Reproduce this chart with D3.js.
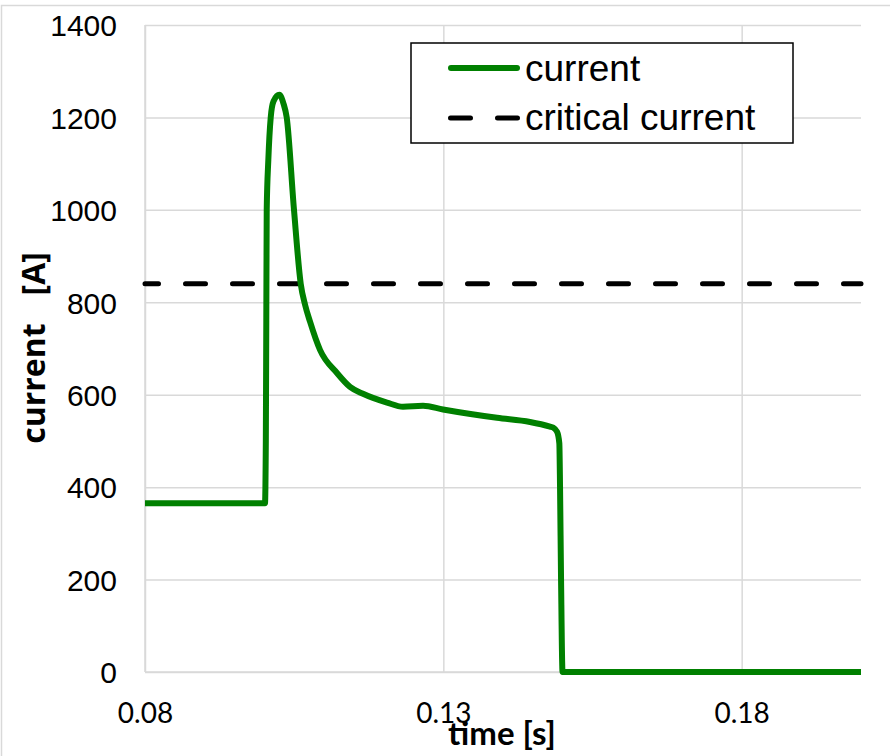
<!DOCTYPE html>
<html>
<head>
<meta charset="utf-8">
<script src="https://cdn.jsdelivr.net/npm/d3@7"></script>
<style>
  html, body { margin: 0; padding: 0; background: #fff; }
  svg { display: block; }
</style>
</head>
<body>
<svg id="chart" width="890" height="756"></svg>
<script>
// ---- data ----
const times = [0.0800, 0.10011, 0.10025, 0.10033, 0.1004, 0.10067, 0.10107, 0.10154, 0.10251, 0.10321,
  0.10375, 0.10497, 0.10610, 0.10682, 0.10766, 0.10933, 0.11218, 0.11436,
  0.11654, 0.12056, 0.12324, 0.1266, 0.12995, 0.139, 0.14453, 0.14788, 0.14839, 0.14906,
  0.14944, 0.14956, 0.14973, 0.14998, 0.2000];
const currents = [365, 365, 500, 760, 1000, 1108, 1200, 1235, 1249, 1230,
  1200, 1000, 840, 795, 758, 697, 647, 617,
  602, 583, 574, 576, 568, 550, 541, 531, 529, 520,
  495, 400, 200, 0, 0];
const criticalTimes = [0.08, 0.2];
const criticalValues = [840, 840];
const xTicks = [0.08, 0.13, 0.18];
const yTicks = [0, 200, 400, 600, 800, 1000, 1200, 1400];
const seriesNames = ["current", "critical current"];

// ---- layout ----
const svg = d3.select("#chart");
const pLeft = 145, pRight = 861, pTop = 25, pBottom = 672;
const x = d3.scaleLinear().domain([0.08, 0.2]).range([pLeft, pRight]);
const y = d3.scaleLinear().domain([0, 1400]).range([pBottom, pTop]);
const gridColor = "#d9d9d9";

// outer border
svg.append("rect").attr("x", 1.5).attr("y", 5.5).attr("width", 950).attr("height", 900)
  .attr("fill", "none").attr("stroke", gridColor).attr("stroke-width", 1.5);

// y axis with gridlines
const yAxis = svg.append("g").attr("transform", `translate(${pLeft},0)`)
  .call(d3.axisLeft(y).tickValues(yTicks).tickSize(-(pRight - pLeft)).tickPadding(28).tickFormat(d3.format("d")));
yAxis.select(".domain").remove();
yAxis.selectAll(".tick line").attr("stroke", gridColor).attr("stroke-width", 1.5);
yAxis.selectAll(".tick text").attr("font-family", "'Liberation Sans', Arial, sans-serif")
  .attr("font-size", 30).attr("fill", "#000").attr("dy", "0.36em");

// x axis with gridlines
const xAxis = svg.append("g").attr("transform", `translate(0,${pBottom})`)
  .call(d3.axisBottom(x).tickValues(xTicks).tickSize(-(pBottom - pTop)).tickFormat(d3.format(".2f")));
xAxis.select(".domain").remove();
xAxis.selectAll(".tick line").attr("stroke", gridColor).attr("stroke-width", 1.5);
xAxis.selectAll(".tick text").attr("font-family", "Lato, 'Open Sans', sans-serif")
  .attr("font-size", 28).attr("fill", "#000").attr("y", 50.5).attr("dy", 0);

// axis lines (left and bottom)
svg.append("line").attr("x1", pLeft).attr("x2", pLeft).attr("y1", pTop).attr("y2", pBottom)
  .attr("stroke", gridColor).attr("stroke-width", 1.5);
svg.append("line").attr("x1", pLeft).attr("x2", pRight).attr("y1", pBottom).attr("y2", pBottom)
  .attr("stroke", gridColor).attr("stroke-width", 1.5);

// critical current dashed line
const critData = criticalTimes.map((t, i) => [t, criticalValues[i]]);
svg.append("path").datum(critData)
  .attr("d", d3.line().x(d => x(d[0])).y(d => y(d[1])))
  .attr("fill", "none").attr("stroke", "#000").attr("stroke-width", 5)
  .attr("stroke-linecap", "round").attr("stroke-dasharray", "20,27").attr("stroke-dashoffset", 6.5);

// current line
const curData = times.map((t, i) => [t, currents[i]]);
svg.append("path").datum(curData)
  .attr("d", d3.line().x(d => x(d[0])).y(d => y(d[1])).curve(d3.curveMonotoneX))
  .attr("fill", "none").attr("stroke", "#008000").attr("stroke-width", 6)
  .attr("stroke-linejoin", "round");

// axis titles
svg.append("text").attr("x", 502).attr("y", 745).attr("text-anchor", "middle")
  .attr("font-family", "Lato, 'Open Sans', sans-serif").attr("font-weight", "bold")
  .attr("font-size", 33).attr("fill", "#000").text("time [s]");

const yt = svg.append("text").attr("transform", "translate(45,348) rotate(-90)")
  .attr("text-anchor", "middle")
  .attr("font-family", "'Open Sans', sans-serif").attr("font-weight", "bold")
  .attr("font-size", 32).attr("fill", "#000");
yt.append("tspan").text("current");
yt.append("tspan").attr("dx", 28).text("[A]");

// legend
const lg = svg.append("g");
lg.append("rect").attr("x", 411).attr("y", 43).attr("width", 382).attr("height", 100)
  .attr("fill", "#fff").attr("stroke", "#000").attr("stroke-width", 1.5);
lg.append("line").attr("x1", 451).attr("x2", 517).attr("y1", 68).attr("y2", 68)
  .attr("stroke", "#008000").attr("stroke-width", 6).attr("stroke-linecap", "round");
lg.append("line").attr("x1", 450.5).attr("x2", 517.5).attr("y1", 118).attr("y2", 118)
  .attr("stroke", "#000").attr("stroke-width", 5).attr("stroke-linecap", "round")
  .attr("stroke-dasharray", "20,27");
lg.append("text").attr("x", 525).attr("y", 81).attr("font-family", "'Liberation Sans', Arial, sans-serif")
  .attr("font-size", 37).attr("fill", "#000").text(seriesNames[0]);
lg.append("text").attr("x", 525).attr("y", 130).attr("font-family", "'Liberation Sans', Arial, sans-serif")
  .attr("font-size", 37).attr("fill", "#000").text(seriesNames[1]);
</script>
</body>
</html>
